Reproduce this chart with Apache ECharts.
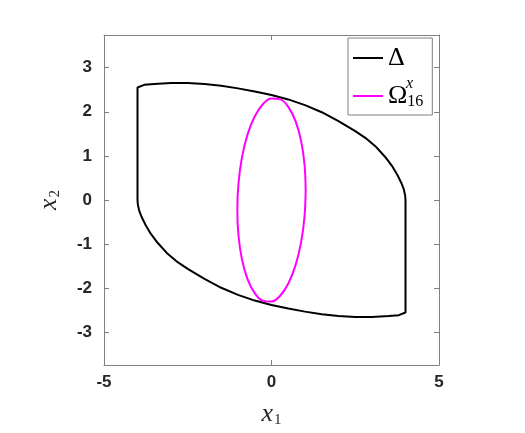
<!DOCTYPE html>
<html>
<head>
<meta charset="utf-8">
<script src="https://cdn.jsdelivr.net/npm/echarts@6/dist/echarts.min.js"></script>
<style>
  html, body { margin: 0; padding: 0; background: #fff; }
  #chart { width: 525px; height: 433px; }
</style>
</head>
<body>
<div id="chart"></div>
<script>
  // Δ boundary (closed)
  const deltaX = [-4, -4, -3.95, -3.8, -3.5, -3.0, -2.5, -2.0, -1.5, -1.0, -0.5, 0,
    0.5, 1.0, 1.5, 2.0, 2.5, 2.8, 3.1, 3.4, 3.6, 3.75, 3.88, 3.95, 3.99, 4.0,
    4.0, 3.95, 3.8, 3.5, 3.0, 2.5, 2.0, 1.5, 1.0, 0.5, 0,
    -0.5, -1.0, -1.5, -2.0, -2.5, -2.8, -3.1, -3.4, -3.6, -3.75, -3.88, -3.95, -3.99, -4.0];
  const deltaY = [0, 2.55, 2.59, 2.61, 2.63, 2.65, 2.65, 2.63, 2.59, 2.53, 2.46, 2.38,
    2.28, 2.15, 1.99, 1.79, 1.56, 1.41, 1.22, 0.97, 0.77, 0.58, 0.38, 0.24, 0.1, 0.0,
    -2.55, -2.59, -2.61, -2.63, -2.65, -2.65, -2.63, -2.59, -2.53, -2.46, -2.38,
    -2.28, -2.15, -1.99, -1.79, -1.56, -1.41, -1.22, -0.97, -0.77, -0.58, -0.38, -0.24, -0.1, 0.0];

  // Ω16x ellipse (closed)
  const omegaX = [1.02, 0.985, 0.883, 0.721, 0.51, 0.264, 0, -0.264, -0.51, -0.721, -0.883, -0.985,
    -1.02, -0.985, -0.883, -0.721, -0.51, -0.264, 0, 0.264, 0.51, 0.721, 0.883, 0.985, 1.02];
  const omegaY = [0.22, 0.81, 1.34, 1.78, 2.10, 2.28, 2.30, 2.165, 1.88, 1.47, 0.96, 0.38,
    -0.22, -0.81, -1.34, -1.78, -2.10, -2.28, -2.30, -2.165, -1.88, -1.47, -0.96, -0.38, 0.22];

  const xMin = -5, xMax = 5, xStep = 5;
  const yMin = -3.74, yMax = 3.74;

  const zip = (a, b) => a.map((v, i) => [v, b[i]]);

  const boxColor = '#808080';
  const labelStyle = {
    fontFamily: 'Liberation Sans', fontWeight: 'bold', fontSize: 17, color: '#262626'
  };
  const nameRich = {
    i: { fontFamily: 'Liberation Serif', fontStyle: 'italic', fontSize: 26, color: '#262626' },
    s: { fontFamily: 'Liberation Serif', fontSize: 15, color: '#262626', padding: [12, 0, 0, 1] }
  };

  function xAx(pos, main) {
    return {
      type: 'value', min: xMin, max: xMax, interval: xStep, position: pos,
      axisLine: { show: true, onZero: false, lineStyle: { color: boxColor, width: 1 } },
      axisTick: { show: true, inside: true, length: 5, lineStyle: { color: boxColor } },
      axisLabel: Object.assign({ show: main, margin: 9 }, labelStyle),
      splitLine: { show: false },
      name: main ? '{i|x}{s|1}' : '',
      nameLocation: 'middle', nameGap: 36,
      nameTextStyle: { rich: nameRich }
    };
  }
  function yAx(pos, main) {
    return {
      type: 'value', min: yMin, max: yMax, splitNumber: 7, position: pos,
      axisLine: { show: true, onZero: false, lineStyle: { color: boxColor, width: 1 } },
      axisTick: { show: true, inside: true, length: 5, lineStyle: { color: boxColor } },
      axisLabel: Object.assign({ show: main, margin: 12, showMinLabel: false, showMaxLabel: false }, labelStyle),
      splitLine: { show: false },
      name: main ? '{i|x}{s|2}' : '',
      nameLocation: 'middle', nameGap: 41,
      nameTextStyle: { rich: nameRich }
    };
  }

  const chart = echarts.init(document.getElementById('chart'));
  chart.setOption({
    backgroundColor: '#fff',
    animation: false,
    grid: { left: 104, right: 86, top: 35, bottom: 64 },
    xAxis: [xAx('bottom', true), xAx('top', false)],
    yAxis: [yAx('left', true), yAx('right', false)],
    legend: {
      orient: 'vertical', left: 348, top: 38,
      padding: [7, 9, 5, 5], itemGap: 12,
      itemWidth: 30, itemHeight: 2, icon: 'rect',
      backgroundColor: '#fff', borderColor: boxColor, borderWidth: 1,
      data: ['Δ', 'Ω'],
      formatter: function (name) {
        return name === 'Ω' ? '{t|Ω}{s|16}' : '{t|Δ}';
      },
      textStyle: {
        rich: {
          t: { fontFamily: 'Liberation Serif', fontSize: 26, color: '#000' },
          s: { fontFamily: 'Liberation Serif', fontSize: 16, color: '#000', padding: [12, 0, 0, 0] }
        }
      }
    },
    graphic: [{
      type: 'text', left: 406, top: 76, z: 100,
      style: { text: 'x', fontFamily: 'Liberation Serif', fontStyle: 'italic', fontSize: 16, fill: '#000' }
    }],
    series: [{
      name: 'Δ', type: 'line', data: zip(deltaX, deltaY),
      showSymbol: false, symbol: 'none',
      lineStyle: { color: '#000', width: 2 }, itemStyle: { color: '#000' }
    }, {
      name: 'Ω', type: 'line', data: zip(omegaX, omegaY), smooth: 0.4,
      showSymbol: false, symbol: 'none',
      lineStyle: { color: '#ff00ff', width: 2 }, itemStyle: { color: '#ff00ff' }
    }]
  });
</script>
</body>
</html>
